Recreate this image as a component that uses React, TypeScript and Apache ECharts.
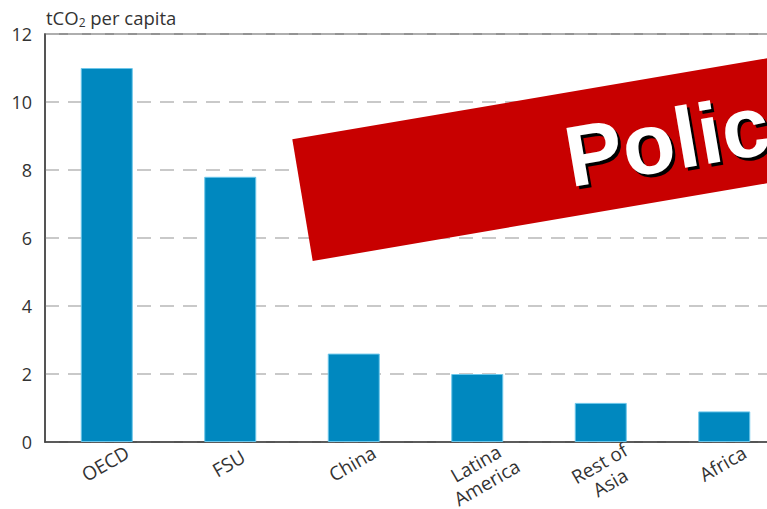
import React, { useEffect, useRef } from "react";
import * as echarts from "echarts";

const categories = ["OECD", "FSU", "China", "Latina\nAmerica", "Rest of\nAsia", "Africa"];
const values = [11.0, 7.8, 2.6, 2.0, 1.15, 0.9];
const yTicks = { min: 0, max: 12, interval: 2 };
const bannerText = "Polic";

const FONT = "'Open Sans', 'Noto Sans', sans-serif";
const BANNER_FONT = "bold 86px 'Liberation Sans', Arial, sans-serif";
const ROT = (9.7 * Math.PI) / 180;

export default function App() {
  const ref = useRef<HTMLDivElement>(null);
  useEffect(() => {
    if (!ref.current) return;
    const chart = echarts.init(ref.current, null, { renderer: "svg" });
    chart.setOption({
      animation: false,
      backgroundColor: "#ffffff",
      title: {
        left: 41,
        top: 2,
        text: "{a|tCO}{b|2}{a| per capita}",
        textStyle: {
          fontWeight: "normal",
          rich: {
            a: { fontSize: 18.5, color: "#333", fontFamily: FONT, fontWeight: "normal" },
            b: { fontSize: 12, color: "#333", fontFamily: FONT, fontWeight: "normal", verticalAlign: "bottom", padding: [9, 0, 0, 0] },
          },
        },
      },
      grid: {
        left: 45,
        top: 34,
        width: 741,
        height: 408,
        outerBoundsMode: "none",
        containLabel: false,
        show: true,
        borderColor: "#707070",
        borderWidth: 1.5,
        backgroundColor: "#ffffff",
      },
      xAxis: {
        type: "category",
        data: categories,
        axisLine: { lineStyle: { color: "#404040", width: 1.5 } },
        axisTick: { inside: true, length: 8, lineStyle: { color: "#404040", width: 1.5 } },
        axisLabel: {
          rotate: 30,
          align: "center",
          verticalAlign: "top",
          margin: 8,
          padding: [0, 16, 0, 0],
          fontSize: 19,
          lineHeight: 22,
          color: "#333",
          fontFamily: FONT,
          interval: 0,
        },
      },
      yAxis: {
        type: "value",
        min: yTicks.min,
        max: yTicks.max,
        interval: yTicks.interval,
        axisLine: { show: true, lineStyle: { color: "#404040", width: 1.5 } },
        axisTick: { show: false },
        axisLabel: { fontSize: 18, color: "#333", fontFamily: FONT, margin: 13 },
        splitLine: { lineStyle: { color: "#b8b8b8", type: [14, 9], width: 1.5 } },
      },
      series: [
        {
          type: "bar",
          data: values,
          barWidth: 52,
          itemStyle: { color: "#0088bf", borderColor: "#6cc6ea", borderWidth: 1 },
        },
      ],
      graphic: [
        {
          type: "polygon",
          z: 100,
          shape: {
            points: [
              [292.3, 139.3],
              [312.7, 261],
              [900, 160.6],
              [900, 35.6],
            ],
          },
          style: { fill: "#c80000" },
        },
        {
          type: "text",
          z: 101,
          x: 576,
          y: 203,
          rotation: ROT,
          silent: true,
          style: {
            text: bannerText,
            fill: "#000000",
            font: BANNER_FONT,
            textAlign: "left",
            textVerticalAlign: "bottom",
          },
        },
        {
          type: "text",
          z: 102,
          x: 573,
          y: 200,
          rotation: ROT,
          style: {
            text: bannerText,
            fill: "#ffffff",
            font: BANNER_FONT,
            textAlign: "left",
            textVerticalAlign: "bottom",
          },
        },
      ],
    });
    return () => chart.dispose();
  }, []);
  return (
    <div style={{ position: "absolute", left: 0, top: 0, width: 767, height: 509, overflow: "hidden" }}>
      <div ref={ref} style={{ width: 800, height: 509 }} />
    </div>
  );
}
